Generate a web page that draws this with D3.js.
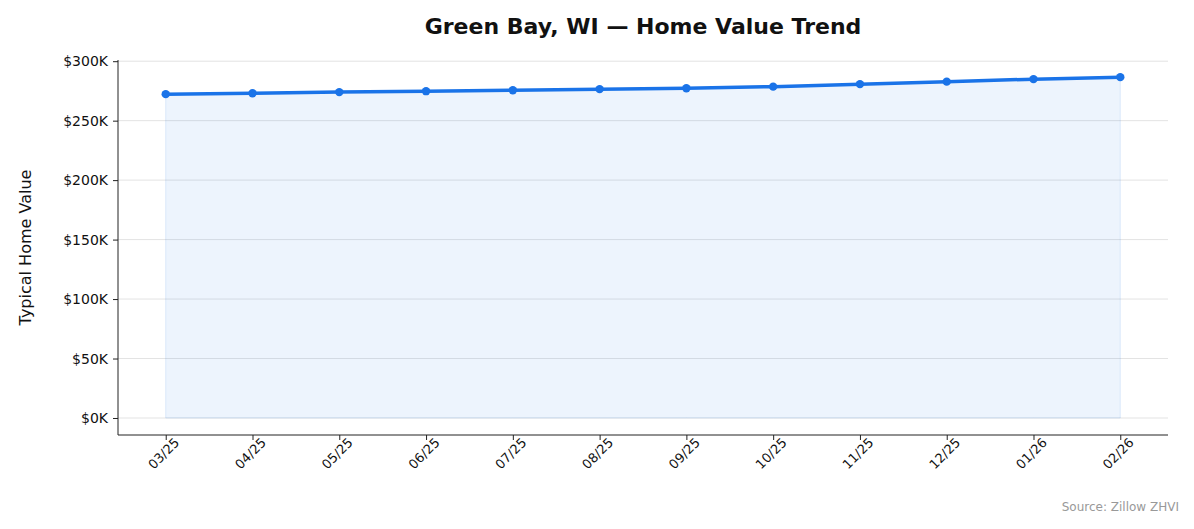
<!DOCTYPE html>
<html><head><meta charset="utf-8">
<script src="https://cdn.jsdelivr.net/npm/d3@7"></script>
<style>body{margin:0;background:#fff;font-family:"DejaVu Sans",sans-serif}</style>
</head><body><div id="chart"></div>
<script>
var months = ['03/25','04/25','05/25','06/25','07/25','08/25','09/25','10/25','11/25','12/25','01/26','02/26'];
var values = [272.3,273.1,274.0,274.8,275.6,276.5,277.3,278.6,280.7,282.8,284.9,286.6];
var yTicks = [0,50,100,150,200,250,300];

var width = 1194, height = 529
  , plotLeft = 118, plotRight = 1168, plotTop = 60, plotBottom = 435;

var svg = d3.select('#chart').append('svg').attr('width', width).attr('height', height);

var x = d3.scaleLinear().domain([-0.55, months.length - 0.45]).range([plotLeft, plotRight]);
var y = d3.scaleLinear().domain([-14.3, 301]).range([plotBottom, plotTop]);

// grid
svg.selectAll('.grid').data(yTicks).enter().append('line')
  .attr('x1', plotLeft).attr('x2', plotRight)
  .attr('y1', function(d){ return y(d); }).attr('y2', function(d){ return y(d); })
  .attr('stroke', '#e3e3e3').attr('stroke-width', 1);

// area + line
svg.append('path').datum(values)
  .attr('d', d3.area().x(function(d,i){ return x(i); }).y0(y(0)).y1(function(d){ return y(d); }))
  .attr('fill', '#1a73e8').attr('fill-opacity', 0.08)
  .attr('stroke', '#1a73e8').attr('stroke-opacity', 0.12);
svg.append('path').datum(values)
  .attr('d', d3.line().x(function(d,i){ return x(i); }).y(function(d){ return y(d); }))
  .attr('fill', 'none').attr('stroke', '#1a73e8').attr('stroke-width', 3.5);
svg.selectAll('.dot').data(values).enter().append('circle')
  .attr('cx', function(d,i){ return x(i); }).attr('cy', function(d){ return y(d); })
  .attr('r', 4.2).attr('fill', '#1a73e8');

// axes
var yAxis = svg.append('g').attr('transform', 'translate(' + plotLeft + ',0)')
  .call(d3.axisLeft(y).tickValues(yTicks).tickSize(5).tickPadding(5).tickFormat(function(d){ return '$' + d + 'K'; }));
var xAxis = svg.append('g').attr('transform', 'translate(0,' + plotBottom + ')')
  .call(d3.axisBottom(x).tickValues(d3.range(months.length)).tickSize(5).tickFormat(function(i){ return months[i]; }));
yAxis.select('.domain').attr('d', 'M0,' + plotTop + 'V' + plotBottom);
xAxis.select('.domain').attr('d', 'M' + plotLeft + ',0H' + plotRight);
svg.selectAll('.domain, .tick line').attr('stroke', '#222');
yAxis.selectAll('text').attr('font-size', 14).attr('fill', '#111').attr('font-family', 'DejaVu Sans');
xAxis.selectAll('text').attr('font-size', 13).attr('fill', '#111').attr('font-family', 'DejaVu Sans')
  .attr('text-anchor', 'end').attr('dx', '0.3em').attr('dy', '0.6em')
  .attr('transform', 'rotate(-45)');

svg.append('text').attr('x', 643).attr('y', 34).attr('text-anchor', 'middle')
  .attr('font-size', 22).attr('font-weight', 'bold').attr('fill', '#111').text('Green Bay, WI — Home Value Trend');
svg.append('text').attr('transform', 'translate(31,' + ((plotTop + plotBottom) / 2) + ') rotate(-90)')
  .attr('text-anchor', 'middle').attr('font-size', 16).attr('fill', '#111').text('Typical Home Value');
svg.append('text').attr('x', 1179).attr('y', 511).attr('text-anchor', 'end')
  .attr('font-size', 12).attr('fill', '#999').text('Source: Zillow ZHVI');
</script></body></html>
